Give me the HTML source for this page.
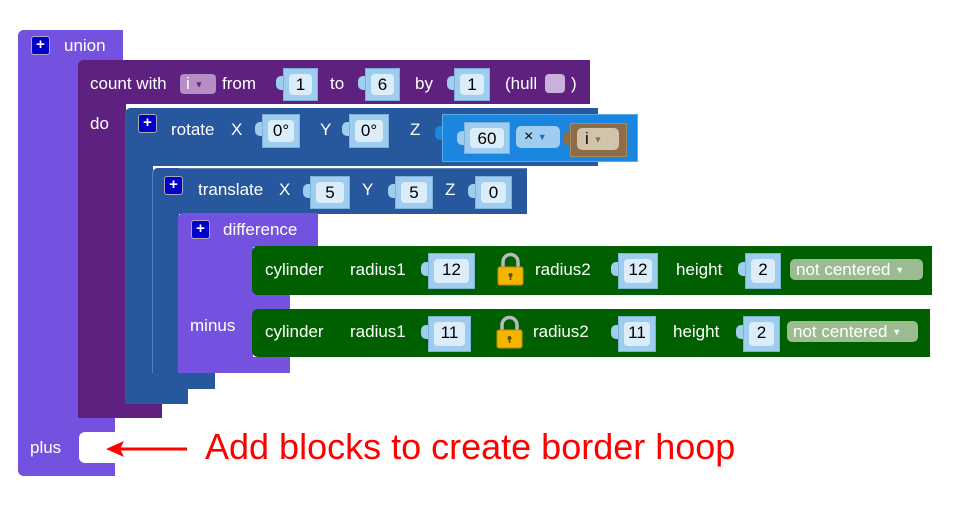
<!DOCTYPE html>
<html><head><meta charset="utf-8"><style>
body{margin:0;width:973px;height:511px;background:#fff;position:relative;overflow:hidden;font-family:"Liberation Sans",Arial,sans-serif}
div{position:absolute;box-sizing:border-box}
.t{color:#fff;font-size:17px;line-height:20px;white-space:nowrap}
.u{background:#7452df}.c{background:#5f2180}.r{background:#27579c}.g{background:#006000}
.pb{width:19px;height:19px;background:#0000c8;border:1px solid #aab;border-radius:3px;color:#fff;font-size:15px;line-height:16px;text-align:center;font-weight:bold}
.in{background:#9fcdef;border:1px solid #7fb0d8}
.in .f{left:5px;top:5px;right:5px;bottom:5px;background:#dcedfa;border-radius:4px;color:#000;font-size:17px;text-align:center;line-height:22px}
.tab{width:8px;height:14px;background:#9fcdef;border-radius:5px 0 0 5px}
.dd{background:#9bbb91;border-radius:5px;color:#fff;font-size:17px;line-height:21px;padding-left:6px;white-space:nowrap}
</style></head><body>
<!-- union -->
<div class="u" style="left:18px;top:30px;width:105px;height:32px;border-radius:6px 0 0 0"></div>
<div class="u" style="left:18px;top:30px;width:62px;height:446px;border-radius:6px 0 0 6px"></div>
<div class="u" style="left:18px;top:416px;width:97px;height:60px;border-radius:0 0 0 6px"></div>
<div style="left:79px;top:432px;width:37px;height:31px;background:#fff;border-radius:6px 0 0 6px"></div>
<div class="pb" style="left:31px;top:36px">+</div>
<div class="t" style="left:64px;top:36px">union</div>
<div class="t" style="left:30px;top:438px">plus</div>
<!-- count -->
<div class="c" style="left:78px;top:60px;width:512px;height:44px;border-radius:6px 0 0 0"></div>
<div class="c" style="left:78px;top:60px;width:48px;height:358px;border-radius:6px 0 0 6px"></div>
<div class="c" style="left:78px;top:400px;width:84px;height:18px"></div>
<div class="t" style="left:90px;top:74px">count with</div>
<div style="left:180px;top:74px;width:36px;height:20px;background:#b58fc4;border-radius:4px;color:#fff;font-size:17px;line-height:20px;padding-left:6px">i <span style="font-size:9px;color:#5f2180;vertical-align:middle">▼</span></div>
<div class="t" style="left:222px;top:74px">from</div>
<div class="tab" style="left:276px;top:76px"></div><div class="in" style="left:283px;top:68px;width:35px;height:33px"><div class="f">1</div></div>
<div class="t" style="left:330px;top:74px">to</div>
<div class="tab" style="left:358px;top:76px"></div><div class="in" style="left:365px;top:68px;width:35px;height:33px"><div class="f">6</div></div>
<div class="t" style="left:415px;top:74px">by</div>
<div class="tab" style="left:447px;top:76px"></div><div class="in" style="left:454px;top:68px;width:36px;height:33px"><div class="f">1</div></div>
<div class="t" style="left:505px;top:74px">(hull</div>
<div style="left:545px;top:74px;width:20px;height:19px;background:#c8b1da;border-radius:4px"></div>
<div class="t" style="left:571px;top:74px">)</div>
<div class="t" style="left:90px;top:114px">do</div>
<!-- rotate -->
<div class="r" style="left:125px;top:108px;width:473px;height:58px;border-radius:6px 0 0 0"></div>
<div class="r" style="left:125px;top:108px;width:28px;height:296px;border-radius:6px 0 0 6px"></div>
<div class="r" style="left:125px;top:388px;width:63px;height:16px"></div>
<div class="pb" style="left:138px;top:114px">+</div>
<div class="t" style="left:171px;top:120px">rotate</div>
<div class="t" style="left:231px;top:120px">X</div>
<div class="tab" style="left:255px;top:122px"></div><div class="in" style="left:262px;top:114px;width:38px;height:34px"><div class="f">0°</div></div>
<div class="t" style="left:320px;top:120px">Y</div>
<div class="tab" style="left:342px;top:122px"></div><div class="in" style="left:349px;top:114px;width:40px;height:34px"><div class="f">0°</div></div>
<div class="t" style="left:410px;top:120px">Z</div>
<div class="tab" style="left:435px;top:126px;background:#1b86e0"></div>
<div style="left:442px;top:114px;width:196px;height:48px;background:#1b86e0;border:1px solid #5aa9ea"></div>
<div class="tab" style="left:457px;top:131px"></div><div class="in" style="left:464px;top:122px;width:46px;height:32px"><div class="f">60</div></div>
<div style="left:516px;top:126px;width:44px;height:22px;background:#9fcdef;border-radius:5px;font-size:16px;line-height:22px;padding-left:8px">×&nbsp;<span style="font-size:9px;color:#1b6fd0;vertical-align:middle">▼</span></div>
<div class="tab" style="left:563px;top:131px;background:#8c6d48"></div>
<div style="left:570px;top:123px;width:57px;height:34px;background:#8c6d48;border:1px solid #a68a62"></div>
<div style="left:577px;top:128px;width:42px;height:22px;background:#d2c3ab;border-radius:5px;font-size:17px;line-height:22px;padding-left:8px">i <span style="font-size:9px;color:#8c6d48;vertical-align:middle">▼</span></div>
<!-- translate -->
<div class="r" style="left:152px;top:168px;width:375px;height:46px;border-radius:6px 0 0 0;border-top:1px solid #5a80b8"></div>
<div class="r" style="left:152px;top:168px;width:27px;height:221px;border-radius:6px 0 0 6px;border-left:1px solid #5a80b8"></div>
<div class="r" style="left:152px;top:373px;width:63px;height:16px"></div>
<div class="pb" style="left:164px;top:176px">+</div>
<div class="t" style="left:198px;top:180px">translate</div>
<div class="t" style="left:279px;top:180px">X</div>
<div class="tab" style="left:303px;top:184px"></div><div class="in" style="left:310px;top:176px;width:40px;height:33px"><div class="f">5</div></div>
<div class="t" style="left:362px;top:180px">Y</div>
<div class="tab" style="left:388px;top:184px"></div><div class="in" style="left:395px;top:176px;width:38px;height:33px"><div class="f">5</div></div>
<div class="t" style="left:445px;top:180px">Z</div>
<div class="tab" style="left:468px;top:184px"></div><div class="in" style="left:475px;top:176px;width:37px;height:33px"><div class="f">0</div></div>
<!-- difference -->
<div class="u" style="left:178px;top:213px;width:140px;height:34px;border-radius:6px 0 0 0"></div>
<div class="u" style="left:178px;top:213px;width:75px;height:160px;border-radius:6px 0 0 6px"></div>
<div class="u" style="left:178px;top:357px;width:112px;height:16px"></div>
<div class="u" style="left:250px;top:290px;width:40px;height:22px"></div>
<div class="pb" style="left:191px;top:220px">+</div>
<div class="t" style="left:223px;top:220px">difference</div>
<div class="t" style="left:190px;top:316px">minus</div>
<!-- cylinders -->
<div class="g" style="left:252px;top:246px;width:680px;height:49px;border-radius:6px 0 0 6px"></div>
<div class="t" style="left:265px;top:260px">cylinder</div>
<div class="t" style="left:350px;top:260px">radius1</div>
<div class="tab" style="left:421px;top:262px"></div><div class="in" style="left:428px;top:253px;width:47px;height:36px"><div class="f">12</div></div>
<svg style="position:absolute;left:497px;top:252px" width="27" height="34"><path d="M6 16V10a7.5 7.5 0 0 1 15 0v6" fill="none" stroke="#bbb" stroke-width="3.5"/><rect x="1" y="15" width="25" height="18" rx="2" fill="#f2b600" stroke="#c88a00"/><circle cx="13.5" cy="23" r="2" fill="#6b4a00"/><rect x="12.7" y="23" width="1.6" height="5" fill="#6b4a00"/></svg>
<div class="t" style="left:535px;top:260px">radius2</div>
<div class="tab" style="left:611px;top:262px"></div><div class="in" style="left:618px;top:253px;width:40px;height:36px"><div class="f">12</div></div>
<div class="t" style="left:676px;top:260px">height</div>
<div class="tab" style="left:738px;top:262px"></div><div class="in" style="left:745px;top:253px;width:36px;height:36px"><div class="f">2</div></div>
<div class="dd" style="left:790px;top:259px;width:133px;height:21px">not centered <span style="font-size:9px;vertical-align:middle">▼</span></div>
<div class="g" style="left:252px;top:309px;width:678px;height:48px;border-radius:6px 0 0 6px"></div>
<div class="t" style="left:265px;top:322px">cylinder</div>
<div class="t" style="left:350px;top:322px">radius1</div>
<div class="tab" style="left:421px;top:325px"></div><div class="in" style="left:428px;top:316px;width:43px;height:36px"><div class="f">11</div></div>
<svg style="position:absolute;left:496px;top:315px" width="27" height="34"><path d="M6 16V10a7.5 7.5 0 0 1 15 0v6" fill="none" stroke="#bbb" stroke-width="3.5"/><rect x="1" y="15" width="25" height="18" rx="2" fill="#f2b600" stroke="#c88a00"/><circle cx="13.5" cy="23" r="2" fill="#6b4a00"/><rect x="12.7" y="23" width="1.6" height="5" fill="#6b4a00"/></svg>
<div class="t" style="left:533px;top:322px">radius2</div>
<div class="tab" style="left:611px;top:325px"></div><div class="in" style="left:618px;top:316px;width:38px;height:36px"><div class="f">11</div></div>
<div class="t" style="left:673px;top:322px">height</div>
<div class="tab" style="left:736px;top:325px"></div><div class="in" style="left:743px;top:316px;width:37px;height:36px"><div class="f">2</div></div>
<div class="dd" style="left:787px;top:321px;width:131px;height:21px">not centered <span style="font-size:9px;vertical-align:middle">▼</span></div>
<!-- annotation -->
<svg style="position:absolute;left:0;top:0" width="973" height="511"><line x1="187" y1="449" x2="118" y2="449" stroke="#f00" stroke-width="3"/><polygon points="106,449 124,441 120,449 124,457" fill="#f00"/></svg>
<div style="left:205px;top:427px;color:#f00;font-size:36px;line-height:40px;white-space:nowrap">Add blocks to create border hoop</div>
</body></html>
